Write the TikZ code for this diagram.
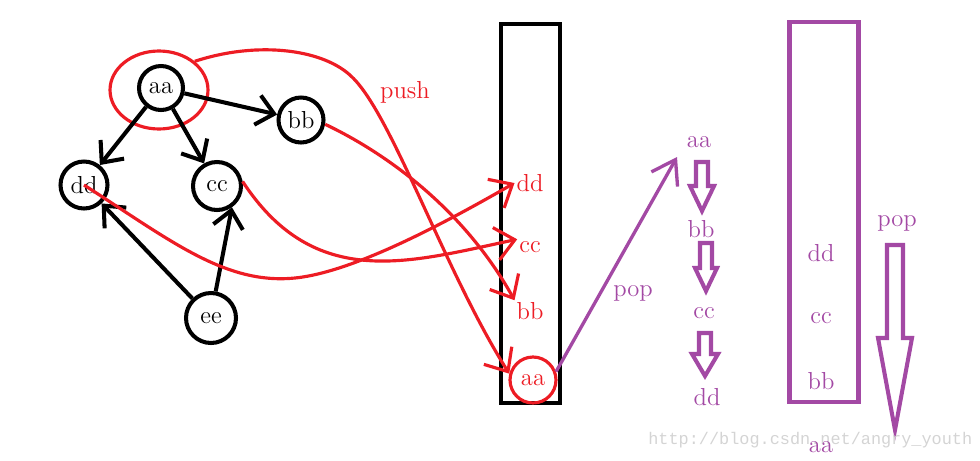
\documentclass[tikz,border=0pt]{standalone}
\usepackage{fontspec}
\usepackage{tikz}
\usetikzlibrary{
    positioning,
    arrows.meta,
    calc,
    shapes.geometric
}
\definecolor{paintRed}{RGB}{237, 28, 36}
\definecolor{paintPurple}{RGB}{163, 73, 164}
\definecolor{markGray}{RGB}{212, 212, 212}
\newfontfamily\markfont{Liberation Mono}

\begin{document}
\begin{tikzpicture}[x=0.02cm, y=-0.02cm, >=stealth,
        vert/.style={circle, draw, line width=2.3pt, inner sep=0pt, minimum size=0.9cm, font=\fontsize{14}{16}\selectfont},
        lbl/.style={inner sep=1pt, font=\fontsize{14}{16}\selectfont},
        blackArr/.style={-{Straight Barb[length=0.34cm, width=0.6cm]}, line width=2.3pt},
        redArr/.style={-{Straight Barb[length=0.38cm, width=0.66cm]}, line width=1.8pt, paintRed},
        purpleArr/.style={-{Straight Barb[length=0.45cm, width=0.6cm]}, line width=1.9pt, paintPurple},
        hollowArr/.style={line width=2.3pt, paintPurple}]
            \useasboundingbox (0,0) rectangle (980,460);

            % Graph
            \node[vert, minimum size=0.88cm] (aa) at (161,88) {aa};
            \node[vert] (bb) at (301,120) {bb};
            \node[vert, minimum size=0.94cm] (dd) at (84,185) {dd};
            \node[vert, minimum size=0.96cm] (cc) at (217,186) {cc};
            \node[vert, minimum size=1.0cm] (ee) at (211,318) {ee};
            \node[ellipse, draw=paintRed, line width=1.8pt, minimum width=1.96cm, minimum height=1.56cm] (aaRing) at (159,90) {};

            \draw[blackArr] (aa) -- (bb);
            \draw[blackArr] (aa) -- (dd);
            \draw[blackArr] (aa) -- (cc);
            \draw[blackArr] (ee) -- (dd);
            \draw[blackArr] (ee.80) -- (cc.-55);

            % Stack (push)
            \node[draw, line width=2.3pt, minimum width=1.18cm, minimum height=7.58cm] (stackOne) at (530.5,213.5) {};
            \node[lbl, paintRed] (sDd) at (530,183) {dd};
            \node[lbl, paintRed] (sCc) at (530,247) {cc};
            \node[lbl, paintRed] (sBb) at (530,311) {bb};
            \node[vert, draw=paintRed, text=paintRed, line width=1.8pt, minimum size=0.92cm] (sAa) at (533,380) {aa};
            \node[lbl, paintRed] (push) at (405,92) {push};

            % Push curves
            \draw[redArr] (aaRing.north east) .. controls (260,40) and (325,50) .. (352,77)
                .. controls (392,115) and (445,272) .. (sAa.165);
            \draw[redArr] (bb.-10) .. controls (400,160) and (470,220) .. (sBb.north west);
            \draw[redArr] (cc.10) .. controls (315,292) and (410,262) .. (sCc.north west);
            \draw[redArr] (dd.center) .. controls (170,240) and (225,285) .. (295,278)
                .. controls (355,272) and (450,220) .. (sDd.west);

            % Pop
            \coordinate (popTip) at (677,157);
            \draw[purpleArr] (sAa.20) -- (popTip);
            \node[lbl, paintPurple] (pop) at (633,293) {pop};

            \node[lbl, paintPurple] (qAa) at (699,142) {aa};
            \node[lbl, paintPurple] (qBb) at (701,229) {bb};
            \node[lbl, paintPurple] (qCc) at (704,313) {cc};
            \node[lbl, paintPurple] (qDd) at (707,397) {dd};
            \draw[hollowArr] (696,162) -- (708,162) -- (708,186) -- (714,186) -- (702,211) -- (690,186) -- (696,186) -- cycle;
            \draw[hollowArr] (700,243) -- (712,243) -- (712,268) -- (717,268) -- (706,291) -- (695,268) -- (700,268) -- cycle;
            \draw[hollowArr] (699,333) -- (711,333) -- (711,354) -- (718,354) -- (705,376) -- (692,354) -- (699,354) -- cycle;

            % Stack after pop
            \node[draw=paintPurple, line width=2.3pt, minimum width=1.38cm, minimum height=7.6cm] (stackTwo) at (824,212) {};
            \node[lbl, paintPurple] (tDd) at (821,253) {dd};
            \node[lbl, paintPurple] (tCc) at (821,318) {cc};
            \node[lbl, paintPurple] (tBb) at (821,381) {bb};
            \node[lbl, paintPurple] (popTwo) at (897,223) {pop};
            \draw[hollowArr] (887,245) -- (903,245) -- (903,338) -- (912,338) -- (895,430) -- (878,338) -- (887,338) -- cycle;

            \node[markGray, anchor=west, inner sep=0pt, font=\markfont\fontsize{9.6}{11}\selectfont] (mark) at (648,440) {http://blog.csdn.net/angry\_youth};
            \node[lbl, paintPurple] (tAa) at (821,447) {aa};
        \end{tikzpicture}
\end{document}
